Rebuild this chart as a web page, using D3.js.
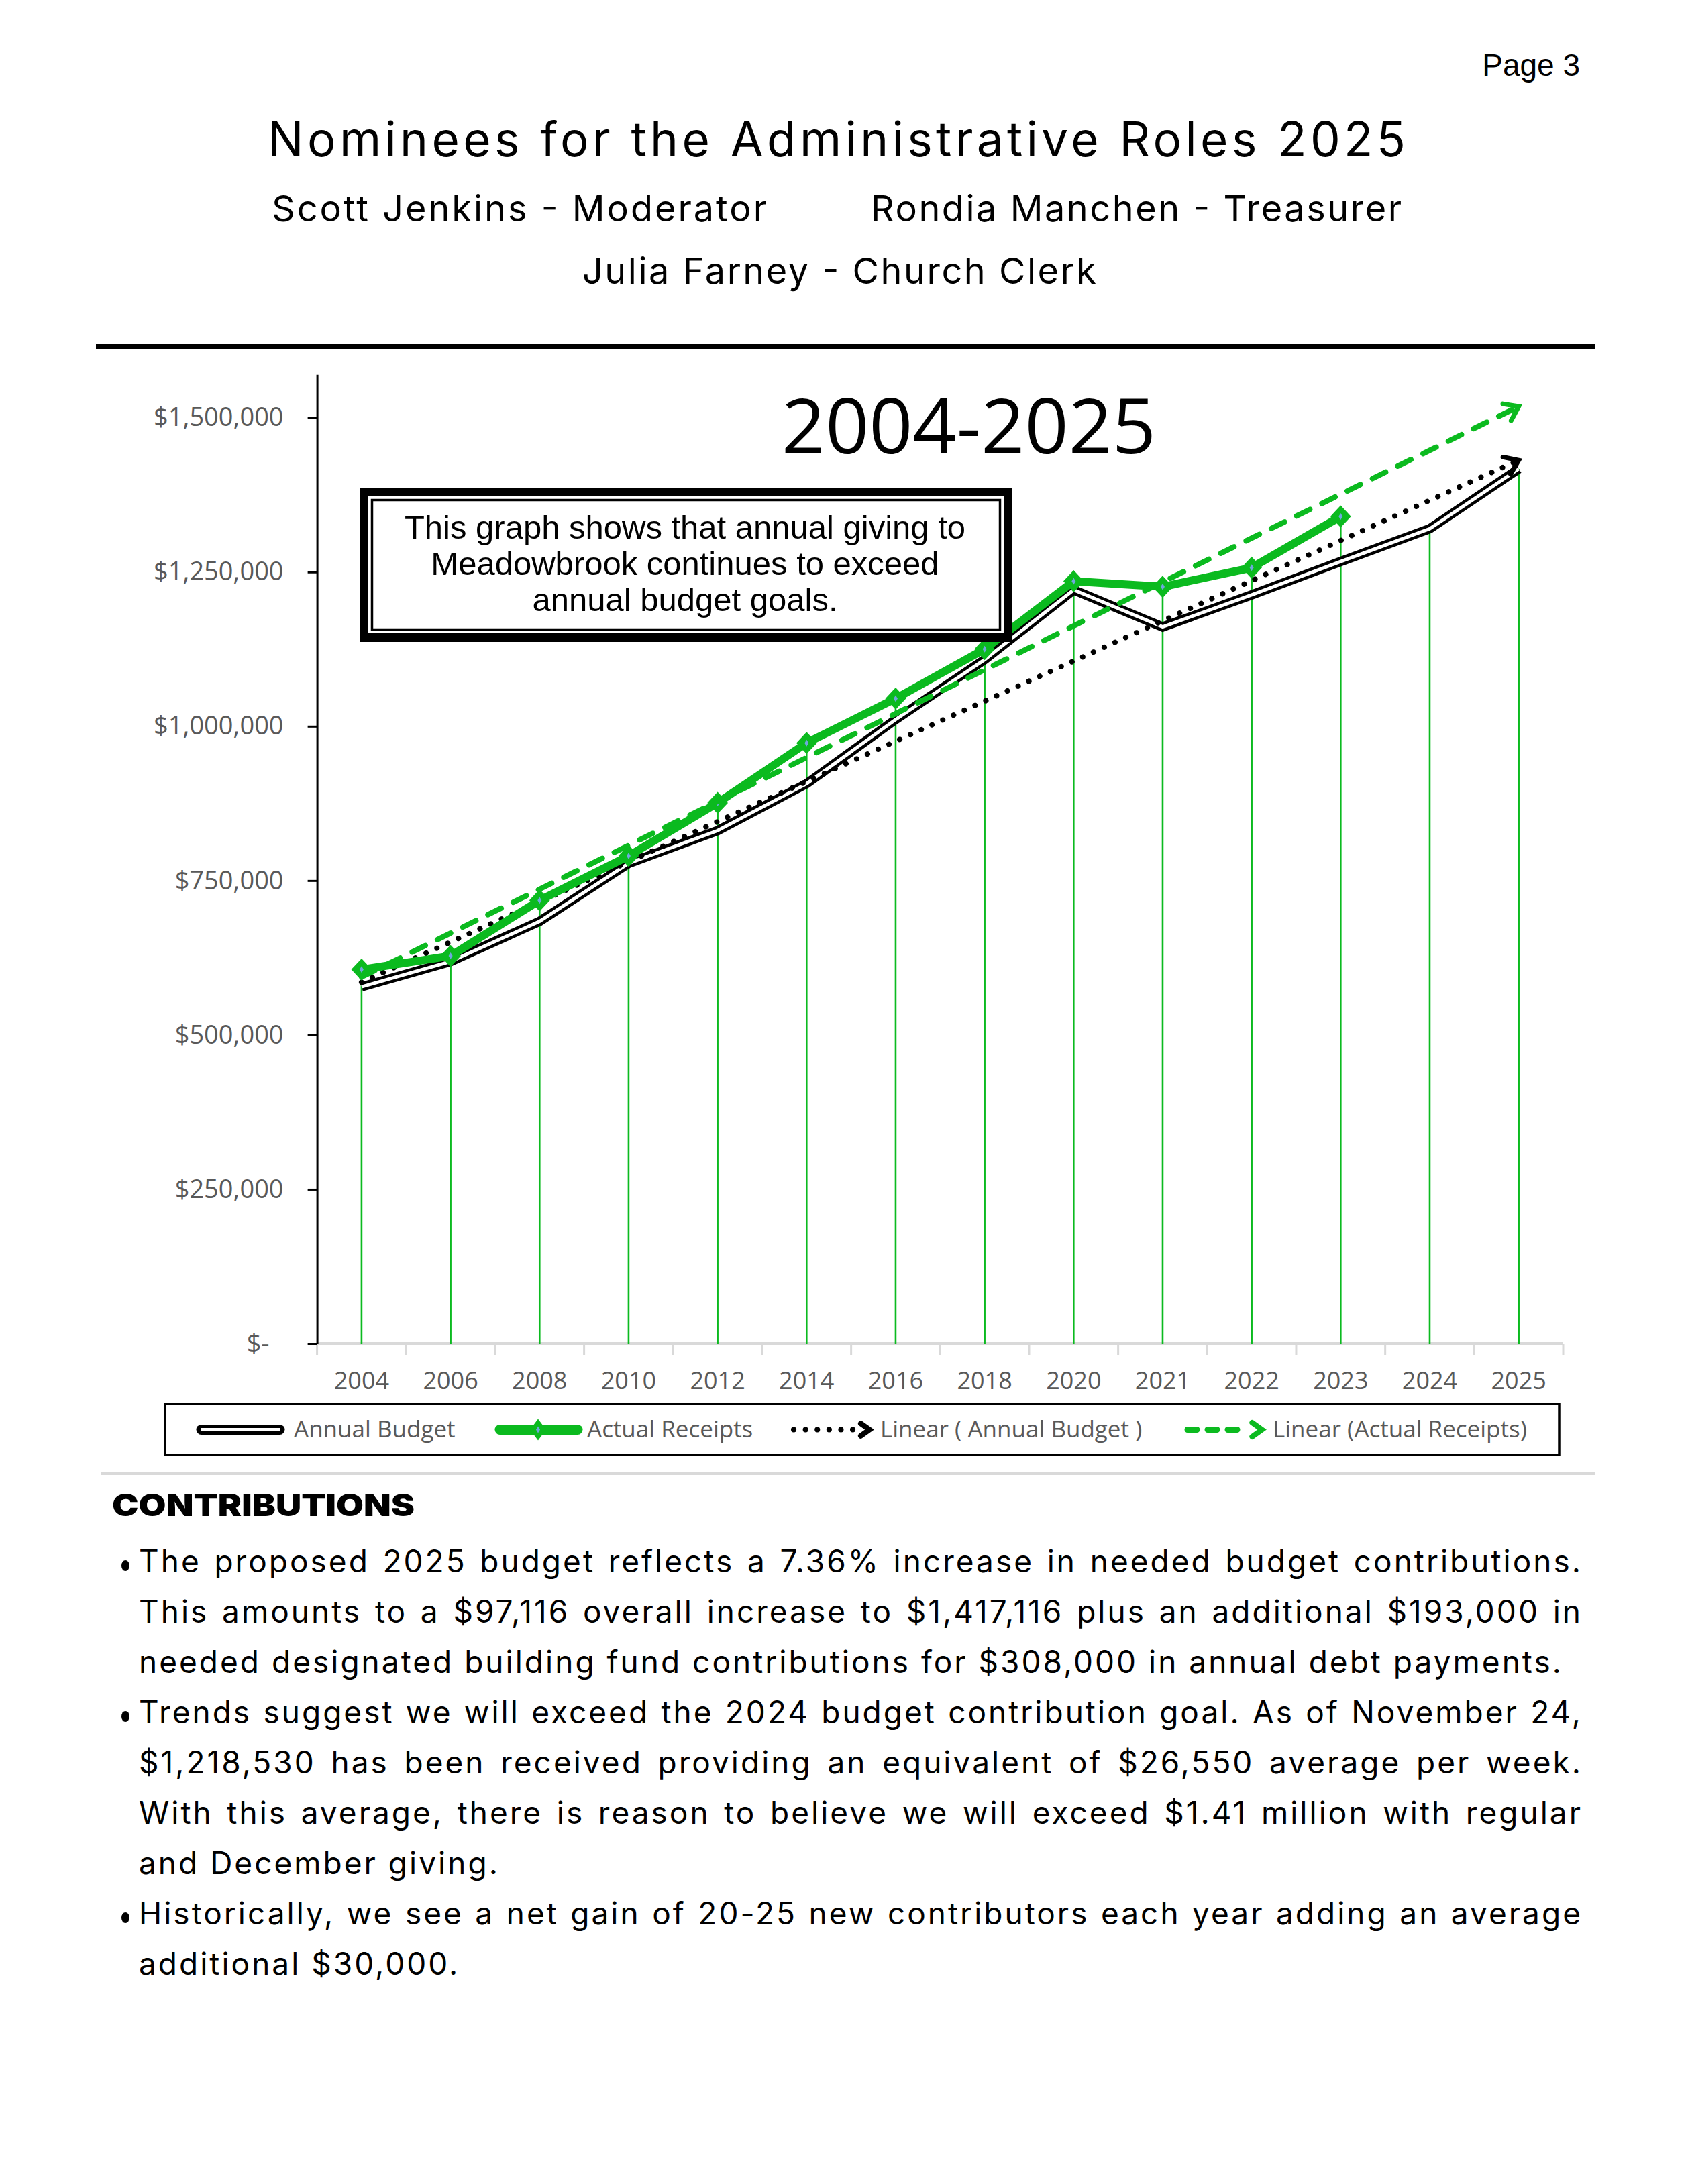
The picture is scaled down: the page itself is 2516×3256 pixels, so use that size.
<!DOCTYPE html>
<html><head><meta charset="utf-8">
<script src="https://cdn.jsdelivr.net/npm/d3@7"></script>
<style>body{margin:0;background:#fff}svg{display:block}</style>
</head><body>
<script>
// ---------------- DATA ----------------
const years = ["2004","2006","2008","2010","2012","2014","2016","2018","2020","2021","2022","2023","2024","2025"];
const annualBudget = [578000, 619000, 684000, 778000, 831000, 907000, 1011000, 1108000, 1221000, 1161000, 1213000, 1267000, 1320000, 1417116];
const actualReceipts = [606000, 628000, 718000, 790000, 876000, 973000, 1045000, 1125000, 1235000, 1226000, 1257000, 1340000, null, null];
const yTicks = [0, 250000, 500000, 750000, 1000000, 1250000, 1500000];
const yTickLabels = ["$-", "$250,000", "$500,000", "$750,000", "$1,000,000", "$1,250,000", "$1,500,000"];
const legendLabels = ["Annual Budget", "Actual Receipts", "Linear ( Annual Budget )", "Linear (Actual Receipts)"];
const chartTitle = "2004-2025";
const noteLines = ["This graph shows that annual giving to", "Meadowbrook continues to exceed", "annual budget goals."];
const pageTitle = "Nominees for the Administrative Roles 2025";
const roles = ["Scott Jenkins - Moderator", "Rondia Manchen - Treasurer", "Julia Farney - Church Clerk"];
const sectionHead = "CONTRIBUTIONS";
const bodyLines = [
  ["The proposed 2025 budget reflects a 7.36% increase in needed budget contributions.", true, true],
  ["This amounts to a $97,116 overall increase to $1,417,116 plus an additional $193,000 in", false, true],
  ["needed designated building fund contributions for $308,000 in annual debt payments.", false, false],
  ["Trends suggest we will exceed the 2024 budget contribution goal. As of November 24,", true, true],
  ["$1,218,530 has been received providing an equivalent of $26,550 average per week.", false, true],
  ["With this average, there is reason to believe we will exceed $1.41 million with regular", false, true],
  ["and December giving.", false, false],
  ["Historically, we see a net gain of 20-25 new contributors each year adding an average", true, true],
  ["additional $30,000.", false, false]
];

// ---------------- SETUP ----------------
const W = 2516, H = 3256;
const GREEN = "#0BBA1F", GRAY_TXT = "#595959", CAL = "'Open Sans', sans-serif";
const GOT = "Inter, 'Open Sans', sans-serif";
const svg = d3.select("body").append("svg").attr("width", W).attr("height", H);
svg.append("rect").attr("width", W).attr("height", H).attr("fill", "#fff");

// Header
svg.append("text").attr("x", 2355).attr("y", 113).attr("text-anchor", "end")
  .attr("font-family", "'Liberation Sans', Arial, sans-serif").attr("font-size", 46).text("Page 3");
svg.append("text").attr("x", 399).attr("y", 233).attr("font-family", GOT)
  .attr("font-size", 71).attr("textLength", 1696).attr("lengthAdjust", "spacing").text(pageTitle);
const roleLayout = [[405, 330, 738], [1298, 330, 791], [868, 423, 766]];
roles.forEach((r, i) => {
  svg.append("text").attr("x", roleLayout[i][0]).attr("y", roleLayout[i][1])
    .attr("font-family", GOT).attr("font-size", 54)
    .attr("textLength", roleLayout[i][2]).attr("lengthAdjust", "spacing").text(r);
});
svg.append("rect").attr("x", 143).attr("y", 513).attr("width", 2234).attr("height", 8).attr("fill", "#000");

// ---------------- CHART ----------------
const x = d3.scaleBand().domain(years).range([472.6, 2330]);
const bw = x.bandwidth();
const cx = d => x(d) + bw / 2;
const y = d3.scaleLinear().domain([0, 1570000]).range([2003, 2003 - 1380.3 * 1570000 / 1500000]);

const chart = svg.append("g");

// x axis line + boundary ticks
chart.append("line").attr("x1", x.range()[0]).attr("x2", x.range()[1]).attr("y1", y(0)).attr("y2", y(0))
  .attr("stroke", "#D9D9D9").attr("stroke-width", 4);
const bounds = years.map(d => x(d)).concat([x.range()[1]]);
chart.selectAll(".xt").data(bounds).enter().append("line")
  .attr("x1", d => d).attr("x2", d => d).attr("y1", y(0)).attr("y2", y(0) + 17)
  .attr("stroke", "#D9D9D9").attr("stroke-width", 3);
chart.selectAll(".xl").data(years).enter().append("text")
  .attr("x", d => cx(d)).attr("y", 2071).attr("text-anchor", "middle")
  .attr("font-family", CAL).attr("font-size", 36).attr("fill", GRAY_TXT).text(d => d);

// drop lines
chart.selectAll(".drop").data(years).enter().append("line")
  .attr("x1", d => cx(d)).attr("x2", d => cx(d))
  .attr("y1", (d, i) => y(Math.max(annualBudget[i], actualReceipts[i] || 0)))
  .attr("y2", y(0)).attr("stroke", GREEN).attr("stroke-width", 2.6);

// y axis
const yAxis = d3.axisLeft(y).tickValues(yTicks).tickFormat((d, i) => yTickLabels[i])
  .tickSize(14).tickPadding(36).tickSizeOuter(0);
const ya = chart.append("g").attr("transform", `translate(${x.range()[0]},0)`).call(yAxis);
ya.select(".domain").attr("stroke", "#000").attr("stroke-width", 3);
ya.selectAll(".tick line").attr("stroke", "#000").attr("stroke-width", 3);
ya.selectAll(".tick text").attr("font-family", CAL).attr("font-size", 38).attr("fill", GRAY_TXT)
  .attr("dx", d => d === 0 ? -21 : 0);

// regression trend lines
function linReg(vals) {
  const pts = vals.map((v, i) => [i, v]).filter(p => p[1] != null);
  const mx = d3.mean(pts, p => p[0]), my = d3.mean(pts, p => p[1]);
  const sxy = d3.sum(pts, p => (p[0] - mx) * (p[1] - my)), sxx = d3.sum(pts, p => (p[0] - mx) ** 2);
  const b = sxy / sxx; return { a: my - b * mx, b };
}
function arrowHead(g, x1, y1, x2, y2, color, L, sw) {
  const ang = Math.atan2(y2 - y1, x2 - x1), s = 0.62;
  const p = `M${x2 - L * Math.cos(ang - s)},${y2 - L * Math.sin(ang - s)} L${x2},${y2} L${x2 - L * Math.cos(ang + s)},${y2 - L * Math.sin(ang + s)}`;
  g.append("path").attr("d", p).attr("fill", "none").attr("stroke", color).attr("stroke-width", sw)
    .attr("stroke-linecap", "round").attr("stroke-linejoin", "miter");
}
const last = years.length - 1;
function drawTrend(vals, color, dash, sw) {
  const r = linReg(vals);
  const x1 = cx(years[0]), y1 = y(r.a), x2 = cx(years[last]), y2 = y(r.a + r.b * last);
  const len = Math.hypot(x2 - x1, y2 - y1), ux = (x2 - x1) / len, uy = (y2 - y1) / len;
  chart.append("line").attr("x1", x1).attr("y1", y1).attr("x2", x2 - ux * 6).attr("y2", y2 - uy * 6)
    .attr("stroke", color).attr("stroke-width", sw).attr("stroke-dasharray", dash).attr("stroke-linecap", "round");
  arrowHead(chart, x1, y1, x2, y2, color, 24, 7);
}

// annual budget (double line)
const lineB = d3.line().x((d, i) => cx(years[i])).y(d => y(d));
chart.append("path").attr("d", lineB(annualBudget)).attr("fill", "none").attr("stroke", "#000")
  .attr("stroke-width", 14).attr("stroke-linejoin", "miter");
chart.append("path").attr("d", lineB(annualBudget)).attr("fill", "none").attr("stroke", "#fff")
  .attr("stroke-width", 5).attr("stroke-linejoin", "miter");

drawTrend(annualBudget, "#000", "0.1 17.5", 8);

// actual receipts
const lineR = d3.line().defined(d => d != null).x((d, i) => cx(years[i])).y(d => y(d));
chart.append("path").attr("d", lineR(actualReceipts)).attr("fill", "none").attr("stroke", GREEN)
  .attr("stroke-width", 12).attr("stroke-linejoin", "round").attr("stroke-linecap", "round");
const diamond = "M0,-15 L14,0 L0,15 L-14,0 Z", inner = "M0,-5 L3,0 L0,5 L-3,0 Z";
const mk = chart.selectAll(".mk").data(actualReceipts.map((v, i) => [i, v]).filter(p => p[1] != null))
  .enter().append("g").attr("transform", p => `translate(${cx(years[p[0]])},${y(p[1])})`);
mk.append("path").attr("d", diamond).attr("fill", GREEN).attr("stroke", GREEN).attr("stroke-width", 2);
mk.append("path").attr("d", inner).attr("fill", "#6FA8DC");

drawTrend(actualReceipts, GREEN, "22 20", 8);

// chart title
svg.append("text").attr("x", 1444).attr("y", 676).attr("text-anchor", "middle")
  .attr("font-family", CAL).attr("font-size", 114).attr("textLength", 558)
  .attr("lengthAdjust", "spacingAndGlyphs").text(chartTitle);

// annotation box
svg.append("rect").attr("x", 542.5).attr("y", 733.5).attr("width", 960).attr("height", 217)
  .attr("fill", "#fff").attr("stroke", "#000").attr("stroke-width", 13);
svg.append("rect").attr("x", 554.5).attr("y", 745.5).attr("width", 936).attr("height", 193)
  .attr("fill", "none").attr("stroke", "#000").attr("stroke-width", 3.5);
noteLines.forEach((t, i) => {
  svg.append("text").attr("x", 1021).attr("y", 803 + i * 54).attr("text-anchor", "middle")
    .attr("font-family", "'Liberation Sans', Arial, sans-serif").attr("font-size", 49).text(t);
});

// ---------------- LEGEND ----------------
const lg = svg.append("g");
lg.append("rect").attr("x", 246).attr("y", 2093).attr("width", 2078).attr("height", 76)
  .attr("fill", "#fff").attr("stroke", "#000").attr("stroke-width", 3.5);
const ly = 2131.5;
lg.append("line").attr("x1", 300).attr("x2", 417).attr("y1", ly).attr("y2", ly)
  .attr("stroke", "#000").attr("stroke-width", 15).attr("stroke-linecap", "round");
lg.append("line").attr("x1", 300).attr("x2", 417).attr("y1", ly).attr("y2", ly)
  .attr("stroke", "#fff").attr("stroke-width", 5);
lg.append("line").attr("x1", 745).attr("x2", 861).attr("y1", ly).attr("y2", ly)
  .attr("stroke", GREEN).attr("stroke-width", 15).attr("stroke-linecap", "round");
lg.append("path").attr("d", "M0,-16 L12,0 L0,16 L-12,0 Z").attr("transform", `translate(802,${ly})`).attr("fill", GREEN);
lg.append("path").attr("d", inner).attr("transform", `translate(802,${ly})`).attr("fill", "#6FA8DC");
lg.append("line").attr("x1", 1183).attr("x2", 1272).attr("y1", ly).attr("y2", ly)
  .attr("stroke", "#000").attr("stroke-width", 8).attr("stroke-dasharray", "0.1 17.5").attr("stroke-linecap", "round");
arrowHead(lg, 1250, ly, 1296, ly, "#000", 16, 8);
lg.append("line").attr("x1", 1770).attr("x2", 1858).attr("y1", ly).attr("y2", ly)
  .attr("stroke", GREEN).attr("stroke-width", 9).attr("stroke-dasharray", "14 16").attr("stroke-linecap", "round");
arrowHead(lg, 1840, ly, 1881, ly, GREEN, 18, 8);
const legendX = [438, 875, 1312, 1897];
legendLabels.forEach((t, i) => {
  lg.append("text").attr("x", legendX[i]).attr("y", 2143).attr("font-family", CAL).attr("font-size", 35)
    .attr("fill", GRAY_TXT).style("white-space", "pre").text(t);
});

// separator
svg.append("line").attr("x1", 150).attr("x2", 2377).attr("y1", 2197).attr("y2", 2197)
  .attr("stroke", "#D9D9D9").attr("stroke-width", 4);

// ---------------- BODY TEXT ----------------
svg.append("text").attr("x", 167).attr("y", 2260).attr("font-family", GOT)
  .attr("font-weight", 900).attr("font-size", 45).attr("textLength", 451).attr("lengthAdjust", "spacingAndGlyphs")
  .text(sectionHead);

const TX0 = 207, TX1 = 2356, BODY_FS = 46;
// calibrate letter spacing on the 3rd (unjustified) line
const probe = svg.append("text").attr("font-family", GOT).attr("font-size", BODY_FS).text(bodyLines[2][0]);
const w0 = probe.node().getComputedTextLength();
probe.remove();
const LS = (2123 - w0) / bodyLines[2][0].length;
bodyLines.forEach((ln, i) => {
  const [t, bullet, just] = ln;
  const base = 2344 + i * 75;
  if (bullet) svg.append("ellipse").attr("cx", 187).attr("cy", base - 10).attr("rx", 6).attr("ry", 8).attr("fill", "#000");
  const tx = svg.append("text").attr("x", TX0).attr("y", base).attr("font-family", GOT)
    .attr("font-size", BODY_FS).attr("letter-spacing", LS).text(t);
  if (just) {
    const w = tx.node().getBBox().width - LS;
    const spaces = t.split(" ").length - 1;
    tx.attr("word-spacing", (TX1 - TX0 - w) / spaces);
  }
});
</script>
</body></html>
